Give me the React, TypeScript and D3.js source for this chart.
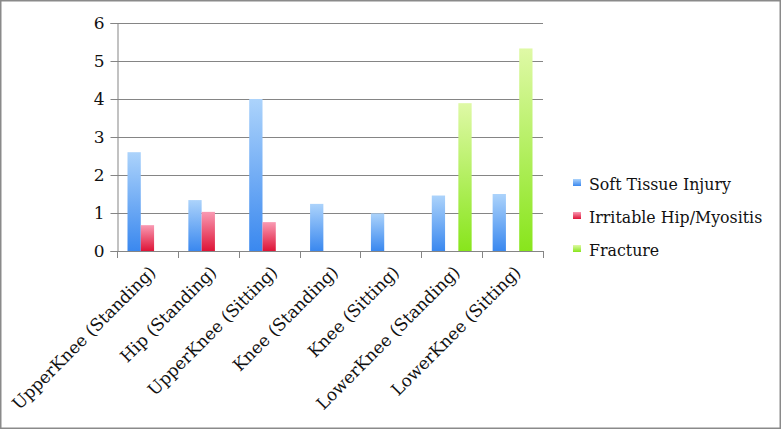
import { useEffect, useRef } from "react";
import * as d3 from "d3";

const categories = [
  "UpperKnee (Standing)",
  "Hip (Standing)",
  "UpperKnee (Sitting)",
  "Knee (Standing)",
  "Knee (Sitting)",
  "LowerKnee (Standing)",
  "LowerKnee (Sitting)",
];

const seriesNames = ["Soft Tissue Injury", "Irritable Hip/Myositis", "Fracture"];

const softTissue = [2.6, 1.34, 4.0, 1.24, 0.99, 1.46, 1.5];
const irritableHip = [0.68, 1.03, 0.76, 0, 0, 0, 0];
const fracture = [0, 0, 0, 0, 0, 3.89, 5.33];

const yTicks = [0, 1, 2, 3, 4, 5, 6];

// light top -> dark bottom, per series
const gradients = [
  { id: "g-blue", top: "#acd3fb", bottom: "#3a88ef" },
  { id: "g-red", top: "#f99ab3", bottom: "#de1437" },
  { id: "g-green", top: "#dff9a6", bottom: "#88e51c" },
];

const W = 782;
const H = 430;
const FONT = "'DejaVu Serif', serif";

export default function App() {
  const svgRef = useRef<SVGSVGElement>(null);

  useEffect(() => {
    if (!svgRef.current) return;
    const svg = d3.select(svgRef.current);
    svg.selectAll("*").remove();

    const left = 117;
    const right = 543;
    const top = 23;
    const bottom = 251;

    const x = d3.scaleBand<string>().domain(categories).range([left, right]);
    const inner = d3
      .scaleBand<string>()
      .domain(seriesNames)
      .range([0, x.bandwidth()])
      .paddingOuter(0.79)
      .paddingInner(0);
    const y = d3.scaleLinear().domain([0, 6]).range([bottom, top]);

    const defs = svg.append("defs");
    gradients.forEach((g) => {
      const lg = defs
        .append("linearGradient")
        .attr("id", g.id)
        .attr("x1", 0)
        .attr("y1", 0)
        .attr("x2", 0)
        .attr("y2", 1);
      lg.append("stop").attr("offset", "0%").attr("stop-color", g.top);
      lg.append("stop").attr("offset", "100%").attr("stop-color", g.bottom);
    });

    // outer frame
    svg
      .append("rect")
      .attr("x", 0.75)
      .attr("y", 0.75)
      .attr("width", W - 2.5)
      .attr("height", H - 2.5)
      .attr("fill", "white")
      .attr("stroke", "#8a8a8a")
      .attr("stroke-width", 1.5);

    // gridlines
    svg
      .append("g")
      .selectAll("line")
      .data(yTicks.filter((t) => t > 0))
      .enter()
      .append("line")
      .attr("x1", left)
      .attr("x2", right)
      .attr("y1", (d) => Math.round(y(d)) + 0.5)
      .attr("y2", (d) => Math.round(y(d)) + 0.5)
      .attr("stroke", "#858585")
      .attr("stroke-width", 1);

    // bars
    const data = [softTissue, irritableHip, fracture];
    data.forEach((vals, si) => {
      svg
        .append("g")
        .selectAll("rect")
        .data(vals.map((v, i) => ({ v, c: categories[i] })).filter((d) => d.v > 0))
        .enter()
        .append("rect")
        .attr("x", (d) => (x(d.c) as number) + (inner(seriesNames[si]) as number))
        .attr("width", inner.bandwidth())
        .attr("y", (d) => y(d.v))
        .attr("height", (d) => bottom - y(d.v))
        .attr("fill", `url(#${gradients[si].id})`);
    });

    // y axis
    const yAxis = svg
      .append("g")
      .attr("transform", `translate(${left + 0.5},0)`)
      .call(d3.axisLeft(y).tickValues(yTicks).tickSize(7).tickPadding(6).tickFormat(d3.format("d")));
    yAxis.select(".domain").attr("stroke", "#858585");
    yAxis.selectAll(".tick line").attr("stroke", "#858585");
    yAxis
      .selectAll(".tick text")
      .attr("fill", "#111")
      .style("font-family", FONT)
      .style("font-size", "17px");

    // x axis
    const ticksX = categories.map((c) => x(c) as number).concat([right]);
    const xg = svg.append("g");
    xg.append("line")
      .attr("x1", left)
      .attr("x2", right)
      .attr("y1", bottom + 0.5)
      .attr("y2", bottom + 0.5)
      .attr("stroke", "#858585");
    xg.selectAll("line.tk")
      .data(ticksX)
      .enter()
      .append("line")
      .attr("class", "tk")
      .attr("x1", (d) => Math.round(d) + 0.5)
      .attr("x2", (d) => Math.round(d) + 0.5)
      .attr("y1", bottom)
      .attr("y2", bottom + 7)
      .attr("stroke", "#858585");
    xg.selectAll("text")
      .data(categories)
      .enter()
      .append("text")
      .attr(
        "transform",
        (d) => `translate(${(x(d) as number) + x.bandwidth() / 2 + 5},${bottom + 18}) rotate(-45)`
      )
      .attr("text-anchor", "end")
      .attr("dy", "0.35em")
      .style("font-family", FONT)
      .style("font-size", "17px")
      .attr("fill", "#111")
      .text((d) => d);

    // legend
    const lg = svg.append("g").attr("transform", "translate(573,184)");
    seriesNames.forEach((name, i) => {
      const row = lg.append("g").attr("transform", `translate(0,${i * 33})`);
      row
        .append("rect")
        .attr("x", 0)
        .attr("y", -5)
        .attr("width", 8)
        .attr("height", 7)
        .attr("fill", `url(#${gradients[i].id})`);
      row
        .append("text")
        .attr("x", 16)
        .attr("y", 0)
        .attr("dy", "0.35em")
        .style("font-family", FONT)
        .style("font-size", "15.8px")
        .attr("fill", "#111")
        .text(name);
    });
  }, []);

  return (
    <div style={{ position: "absolute", left: 0, top: 0 }}>
      <svg ref={svgRef} width={W} height={H} viewBox={`0 0 ${W} ${H}`} style={{ display: "block" }} />
    </div>
  );
}
